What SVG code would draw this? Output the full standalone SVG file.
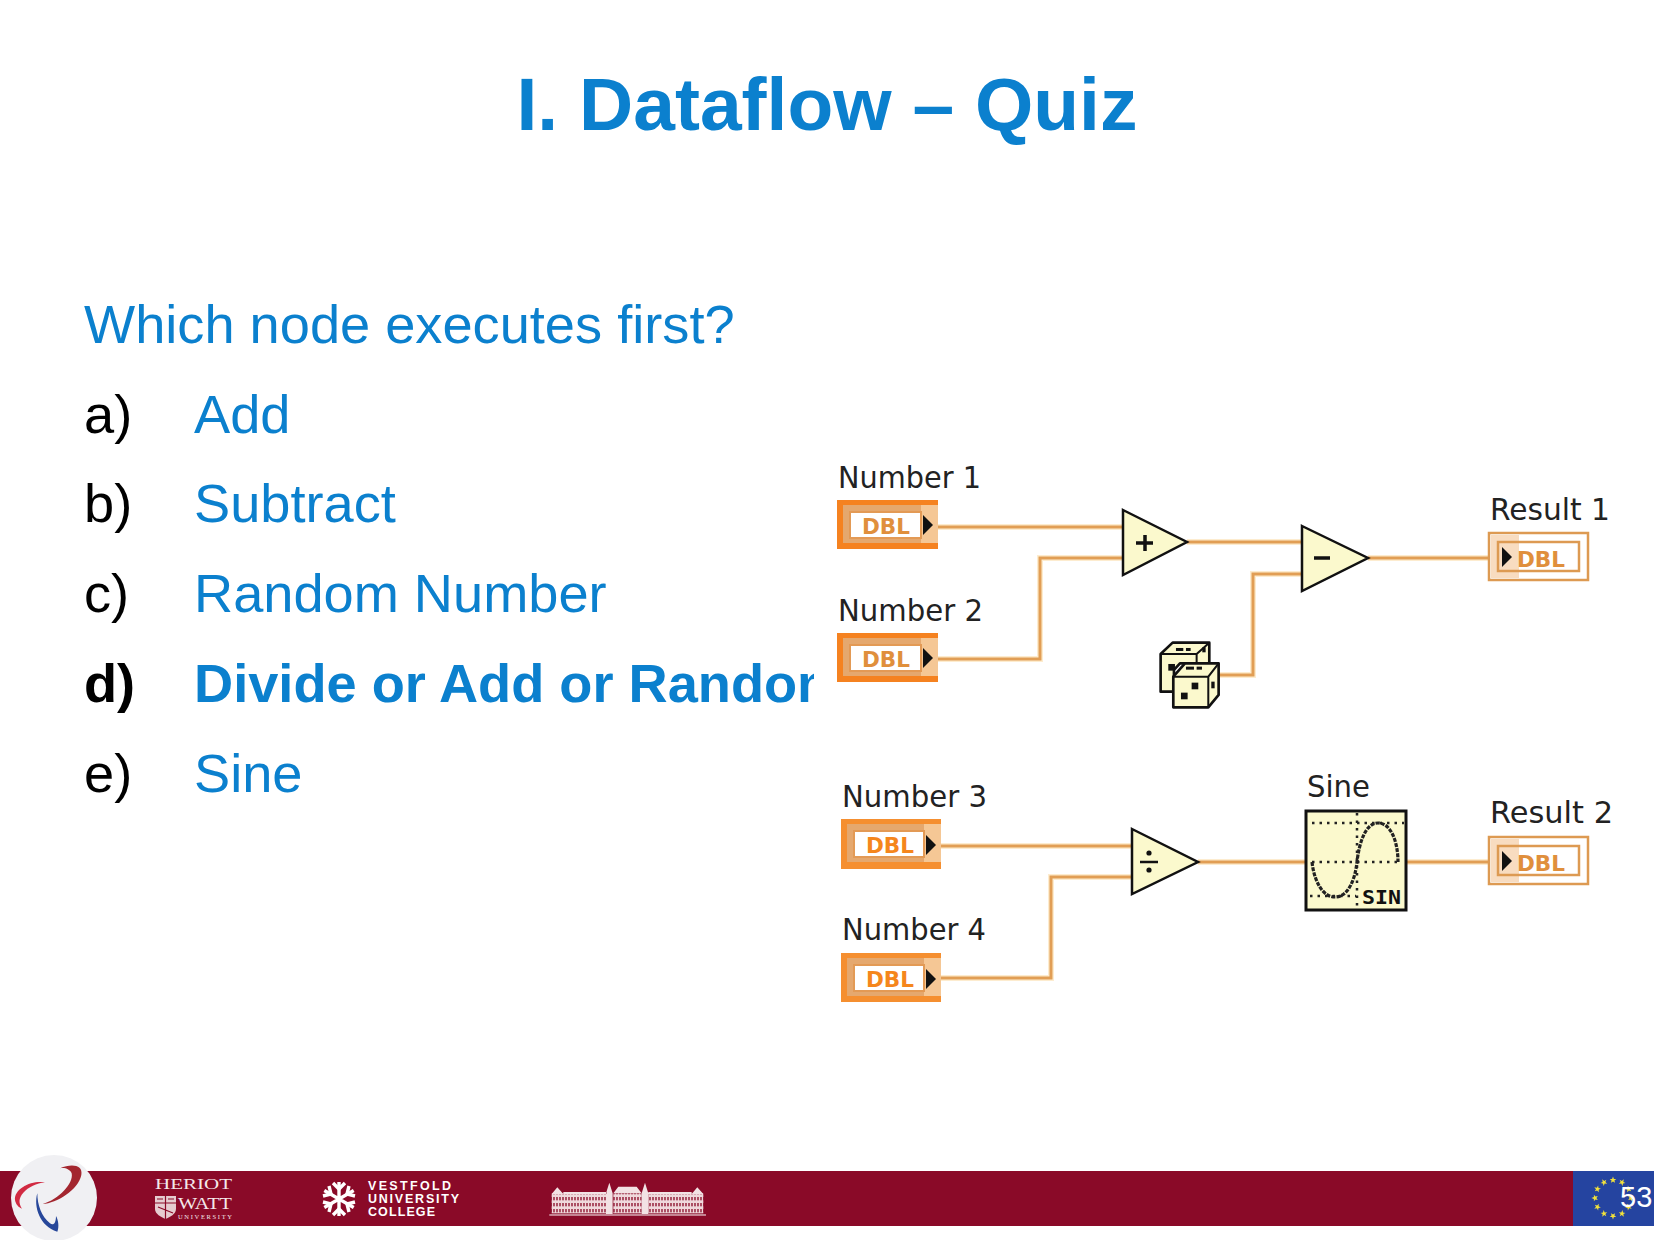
<svg xmlns="http://www.w3.org/2000/svg" width="1654" height="1240" viewBox="0 0 1654 1240">
<style>
.title{font:bold 75px "Liberation Sans",Arial,sans-serif;fill:#0b80ce}
.q{font:54.2px "Liberation Sans",Arial,sans-serif;fill:#0b80ce}
.k{font:54.2px "Liberation Sans",Arial,sans-serif;fill:#000}
.b{font-weight:bold}
.lab{font:29.500px "DejaVu Sans",Verdana,sans-serif;fill:#222}
.dbl{font:bold 22px "DejaVu Sans",sans-serif;fill:#e08f3c}
.halo{fill:none;stroke:#fdeccf;stroke-width:6}
.wire{fill:none;stroke:#e19e55;stroke-width:3}
.ctl-o{fill:#f5c795;stroke:none}
.tri{fill:#fbf9cd;stroke:#111;stroke-width:2.5;stroke-linejoin:miter}
.sym{stroke:#111;stroke-width:3.5;fill:none}
.dot{stroke:#222;stroke-width:2.5;stroke-dasharray:2.5 5;fill:none}
.foot{fill:#fff;font-family:"Liberation Sans",Arial,sans-serif;font-weight:bold;font-size:12.5px}
.ser{fill:#f4e8ea;font-family:"Liberation Serif","Times New Roman",serif}
.die{fill:#fbf9cd;stroke:#111;stroke-width:8;stroke-linejoin:round}
.line{fill:none;stroke:#111;stroke-width:6}
.snow{stroke:#fff;stroke-width:3.4;fill:none}
</style>
<defs>
<clipPath id="cut"><rect x="0" y="600" width="814" height="130"/></clipPath>
<polygon id="star" points="1613,1176.4 1613.9,1178.9 1616.3,1178.9 1614.4,1180.4 1615.1,1182.8 1613,1181.4 1610.9,1182.8 1611.6,1180.4 1609.7,1178.9 1612.1,1178.9" fill="#f3e23a"/>
<pattern id="win" width="9" height="18" patternUnits="userSpaceOnUse"><rect width="9" height="18" fill="#efd9dc"/><rect x="1" y="3" width="4" height="10" fill="#8a0a28"/></pattern>
</defs>
<rect width="1654" height="1240" fill="#fff"/>

<text class="title" x="827" y="130" text-anchor="middle">I. Dataflow – Quiz</text>
<text class="q" x="84" y="343">Which node executes first?</text>
<text class="k" x="84" y="433">a)</text><text class="q" x="194" y="433">Add</text>
<text class="k" x="84" y="522">b)</text><text class="q" x="194" y="522">Subtract</text>
<text class="k" x="84" y="612">c)</text><text class="q" x="194" y="612">Random Number</text>
<g clip-path="url(#cut)"><text class="k b" x="84" y="702">d)</text><text class="q b" x="194" y="702">Divide or Add or Random</text></g>
<text class="k" x="84" y="792">e)</text><text class="q" x="194" y="792">Sine</text>

<g id="connectors">
<path class="halo" d="M938 527H1123M938 659H1040V558H1123M1187 542H1302M1220 675H1253V574H1302M1368 558H1488M941 846H1132M941 978H1051V877H1132M1198 862H1306M1406 862H1488"/>
<path class="wire" d="M938 527H1123M938 659H1040V558H1123M1187 542H1302M1220 675H1253V574H1302M1368 558H1488M941 846H1132M941 978H1051V877H1132M1198 862H1306M1406 862H1488"/>
</g>

<g id="number1"><text class="lab" x="838" y="488" textLength="143" lengthAdjust="spacingAndGlyphs">Number 1</text>
<rect x="837" y="500" width="101" height="49" fill="#f58220"/><rect x="843" y="505" width="95" height="38" fill="#e5a86e"/><rect x="921" y="505" width="17" height="38" class="ctl-o"/><rect x="850" y="512" width="71" height="26" fill="#fff" stroke="#e39a55" stroke-width="2"/><text class="dbl" x="862" y="534" textLength="48" lengthAdjust="spacingAndGlyphs">DBL</text><path d="M923 515L933 525L923 535Z" fill="#111"/></g>
<g id="number2"><text class="lab" x="838" y="621" textLength="145" lengthAdjust="spacingAndGlyphs">Number 2</text>
<rect x="837" y="633" width="101" height="49" fill="#f58220"/><rect x="843" y="638" width="95" height="38" fill="#e5a86e"/><rect x="921" y="638" width="17" height="38" class="ctl-o"/><rect x="850" y="645" width="71" height="26" fill="#fff" stroke="#e39a55" stroke-width="2"/><text class="dbl" x="862" y="667" textLength="48" lengthAdjust="spacingAndGlyphs">DBL</text><path d="M923 648L933 658L923 668Z" fill="#111"/></g>
<g id="number3"><text class="lab" x="842" y="807" textLength="145" lengthAdjust="spacingAndGlyphs">Number 3</text>
<rect x="841" y="819" width="100" height="50" fill="#f58f30"/><rect x="847" y="824" width="94" height="38" fill="#e5a86e"/><rect x="924" y="824" width="17" height="38" class="ctl-o"/><rect x="854" y="831" width="70" height="26" fill="#fff" stroke="#e39a55" stroke-width="2"/><text class="dbl" x="866" y="853" textLength="48" lengthAdjust="spacingAndGlyphs" style="fill:#f5861c">DBL</text><path d="M926 835L936 845L926 855Z" fill="#111"/></g>
<g id="number4"><text class="lab" x="842" y="940" textLength="144" lengthAdjust="spacingAndGlyphs">Number 4</text>
<rect x="841" y="953" width="100" height="49" fill="#f58f30"/><rect x="847" y="958" width="94" height="38" fill="#e5a86e"/><rect x="924" y="958" width="17" height="38" class="ctl-o"/><rect x="854" y="965" width="70" height="26" fill="#fff" stroke="#e39a55" stroke-width="2"/><text class="dbl" x="866" y="987" textLength="48" lengthAdjust="spacingAndGlyphs" style="fill:#f5861c">DBL</text><path d="M926 969L936 979L926 989Z" fill="#111"/></g>

<g id="add"><polygon class="tri" points="1123,510 1187,542 1123,575"/><path class="sym" d="M1136 543H1153M1145 535V551"/></g>
<g id="subtract"><polygon class="tri" points="1302,526 1368,558 1302,591"/><path class="sym" d="M1314 558H1330"/></g>
<g id="divide"><polygon class="tri" points="1132,829 1198,862 1132,894"/><path d="M1140 862H1158" stroke="#111" stroke-width="2.5"/><circle cx="1149" cy="853" r="2.6" fill="#111"/><circle cx="1149" cy="870" r="2.6" fill="#111"/></g>

<g id="random" transform="translate(820 450) scale(.3333)">
<path class="die" d="M1022 612L1058 578H1168V640H1080L1062 660V725H1022Z"/>
<path class="line" d="M1022 612H1130L1168 578M1130 612V640"/>
<path class="die" d="M1060 680L1095 640H1196V735L1165 772H1060Z"/>
<path class="line" d="M1060 680H1165L1196 640M1165 680V772"/>
<g fill="#111"><rect x="1115" y="698" width="20" height="20"/><rect x="1083" y="728" width="20" height="20"/><rect x="1045" y="642" width="20" height="20"/><rect x="1098" y="650" width="24" height="9"/><rect x="1130" y="650" width="16" height="9"/><rect x="1068" y="594" width="22" height="9"/><rect x="1098" y="594" width="14" height="9"/><rect x="1174" y="695" width="10" height="20"/><rect x="1147" y="592" width="10" height="15"/></g>
</g>

<g id="sine"><text class="lab" x="1307" y="797" textLength="63" lengthAdjust="spacingAndGlyphs">Sine</text>
<rect x="1306" y="811" width="100" height="99" fill="#fbf9cd" stroke="#111" stroke-width="3"/>
<path class="dot" d="M1312 823H1404M1312 862H1398M1310 896H1356M1357 813V908"/>
<path d="M1312 862C1314 880 1322 897 1335 897C1348 897 1355 880 1357 862C1359 844 1365 823 1378 823C1391 823 1398 842 1398 862" fill="none" stroke="#222" stroke-width="3.2" stroke-dasharray="4 1.2"/>
<text x="1362" y="904" textLength="39" lengthAdjust="spacingAndGlyphs" style="font:bold 19px 'DejaVu Sans Mono',monospace;fill:#111">SIN</text></g>

<g id="result1"><text class="lab" x="1490" y="520" textLength="120" lengthAdjust="spacingAndGlyphs">Result 1</text>
<rect x="1489" y="533" width="99" height="47" fill="#fff" stroke="#dd9a52" stroke-width="2.5"/><rect x="1491" y="535" width="28" height="43" fill="#f8dcc0"/><rect x="1498" y="542" width="81" height="29" fill="none" stroke="#dd9a52" stroke-width="2.5"/><path d="M1502 547L1512 557L1502 567Z" fill="#111"/><text class="dbl" x="1517" y="567" textLength="48" lengthAdjust="spacingAndGlyphs">DBL</text></g>
<g id="result2"><text class="lab" x="1490" y="823" textLength="123" lengthAdjust="spacingAndGlyphs">Result 2</text>
<rect x="1489" y="837" width="99" height="47" fill="#fff" stroke="#dd9a52" stroke-width="2.5"/><rect x="1491" y="839" width="28" height="43" fill="#f8dcc0"/><rect x="1498" y="846" width="81" height="29" fill="none" stroke="#dd9a52" stroke-width="2.5"/><path d="M1502 851L1512 861L1502 871Z" fill="#111"/><text class="dbl" x="1517" y="871" textLength="48" lengthAdjust="spacingAndGlyphs">DBL</text></g>

<g id="footer">
<rect x="0" y="1171" width="1654" height="55" fill="#8a0a28"/>
<rect x="1573" y="1171" width="81" height="55" fill="#2544a0"/>
<circle cx="54" cy="1198" r="43" fill="#f0f0f3"/>
<g transform="translate(0 1140) scale(.3333)">
<path d="M128 192C175 180 222 130 215 100C210 88 195 82 180 85C215 70 250 75 244 105C235 150 170 190 128 192Z" fill="#a3262f"/>
<path d="M135 127C95 120 42 145 45 180C47 192 55 202 66 206C56 190 55 175 70 158C85 142 110 130 135 127Z" fill="#d12a42"/>
<path d="M112 160C100 200 120 260 172 275C178 260 175 240 168 228C168 250 160 258 150 250C125 230 112 195 112 160Z" fill="#27479a"/>
</g>
<text class="ser" x="155" y="1189" font-size="15.500" textLength="77" lengthAdjust="spacingAndGlyphs">HERIOT</text>
<text class="ser" x="178" y="1209" font-size="17" textLength="54" lengthAdjust="spacingAndGlyphs">WATT</text>
<text class="ser" x="178" y="1219" font-size="6.500" textLength="54">UNIVERSITY</text>
<path d="M155 1196H176V1209C176 1214 170 1217 165.500 1219C161 1217 155 1214 155 1209Z" fill="#e6ccd0"/><path d="M155 1203H176M165.500 1196V1219M157 1199H163M168 1199H174M158 1207L173 1213" stroke="#8a0a28" stroke-width="1.2" fill="none"/>
<g class="snow" id="snowflake">
<path d="M339 1182V1216M324.300 1190.500L353.700 1207.500M324.300 1207.500L353.700 1190.500"/>
<path d="M333 1183L339 1189L345 1183M333 1215L339 1209L345 1215M323 1196L331 1194L329 1186M355 1196L347 1194L349 1186M323 1202L331 1204L329 1212M355 1202L347 1204L349 1212"/>
</g>
<text class="foot" x="368" y="1190" textLength="83">VESTFOLD</text>
<text class="foot" x="368" y="1203" textLength="91">UNIVERSITY</text>
<text class="foot" x="368" y="1216" textLength="67">COLLEGE</text>
<g id="building" transform="translate(520 1160) scale(.3333)">
<rect x="95" y="100" width="165" height="60" fill="url(#win)"/>
<rect x="385" y="100" width="165" height="60" fill="url(#win)"/>
<rect x="280" y="100" width="85" height="60" fill="url(#win)"/>
<path d="M95 102L112 82L130 102Z M515 102L532 82L550 102Z M280 100L295 80H350L365 100Z M258 100L268 68L278 100V162H258Z M365 100L375 68L385 100V162H365Z M130 102H260V96H130Z M385 102H515V96H385Z" fill="#f2e2e4"/>
<path d="M88 165H558" stroke="#fff" stroke-width="3"/>
</g>
<use href="#star"/><use href="#star" transform="rotate(30 1613 1198)"/><use href="#star" transform="rotate(60 1613 1198)"/><use href="#star" transform="rotate(90 1613 1198)"/><use href="#star" transform="rotate(120 1613 1198)"/><use href="#star" transform="rotate(150 1613 1198)"/><use href="#star" transform="rotate(180 1613 1198)"/><use href="#star" transform="rotate(210 1613 1198)"/><use href="#star" transform="rotate(240 1613 1198)"/><use href="#star" transform="rotate(270 1613 1198)"/><use href="#star" transform="rotate(300 1613 1198)"/><use href="#star" transform="rotate(330 1613 1198)"/>
<text x="1620" y="1207" style="font:29px 'Liberation Sans',Arial,sans-serif;fill:#fff">53</text>
</g>
</svg>
